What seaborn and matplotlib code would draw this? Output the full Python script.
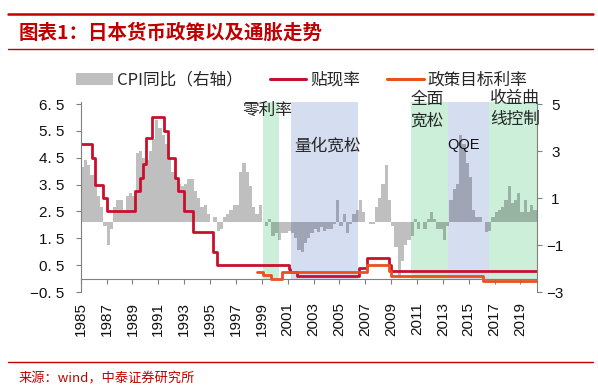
import numpy as np
import pandas as pd
import matplotlib
matplotlib.use('Agg')
import matplotlib.pyplot as plt
import seaborn as sns
from matplotlib.lines import Line2D
from matplotlib.patches import Patch
from matplotlib.font_manager import FontProperties

# ---- data ----
# Japan CPI yoy (%), quarterly, 1985Q1 .. 2020Q2, right axis
cpi_yoy = [
    2.3, 2.6, 2.4, 2.0,       # 1985
    1.5, 1.1, 0.6, -0.2,      # 1986
    -1.0, -0.3, 0.6, 0.9,     # 1987
    0.9, 0.5, 1.1, 1.2,       # 1988
    1.1, 2.9, 3.0, 2.7,       # 1989
    2.6, 3.0, 3.5, 4.3,       # 1990
    4.0, 3.7, 3.3, 2.7,       # 1991
    2.1, 1.9, 1.6, 1.5,       # 1992
    1.6, 1.8, 1.8, 1.3,       # 1993
    1.0, 0.6, 0.7, 0.3,       # 1994
    0.0, 0.2, -0.4, -0.3,     # 1995
    0.2, 0.3, 0.5, 0.7,       # 1996
    0.7, 2.1, 2.5, 2.1,       # 1997
    1.5, 0.6, 0.3, 0.7,       # 1998
    0.0, -0.2, 0.1, -0.6,     # 1999
    -0.5, -0.8, -0.5, -0.5,   # 2000
    -0.4, -0.5, -0.7, -1.2,   # 2001
    -1.3, -0.9, -0.7, -0.5,   # 2002
    -0.3, -0.45, -0.25, -0.4, # 2003
    -0.3, -0.3, -0.1, 0.9,    # 2004
    -0.2, 0.3, -0.5, -0.1,    # 2005
    0.3, 0.5, 0.9, 0.4,       # 2006
    0.0, -0.1, -0.1, 0.6,     # 2007
    1.0, 1.6, 2.4, 0.9,       # 2008
    -0.2, -1.1, -2.4, -1.7,   # 2009
    -1.0, -0.8, -0.6, 0.1,    # 2010
    -0.3, 0.0, -0.3, 0.1,     # 2011
    0.4, 0.1, -0.3, -0.3,     # 2012
    -0.8, -0.2, 0.9, 1.4,     # 2013
    1.6, 3.7, 3.3, 2.5,       # 2014
    1.9, 0.5, 0.2, 0.2,       # 2015
    0.0, -0.45, -0.4, 0.2,    # 2016
    0.4, 0.5, 0.6, 0.9,       # 2017
    1.5, 0.8, 0.9, 1.2,       # 2018
    0.4, 0.9, 0.4, 0.7,       # 2019
    0.5, 0.2,                 # 2020
]
cpi_quarters = pd.period_range('1985Q1', '2020Q2', freq='Q')

# discount rate (%), step changes, decimal year
discount_dates = [1985.0, 1985.87, 1986.08, 1986.72, 1987.05, 1989.22, 1989.62,
                  1989.82, 1990.05, 1990.51, 1991.44, 1991.75, 1992.27, 1992.52,
                  1992.99, 1993.68, 1995.2, 1995.55, 2001.1, 2001.17, 2001.72,
                  2006.53, 2007.14, 2008.83, 2008.97, 2020.3]
discount_rate = [5.0, 4.5, 3.5, 3.0, 2.5, 3.25, 3.75,
                 4.25, 5.25, 6.0, 5.5, 4.5, 3.75, 3.25,
                 2.5, 1.75, 1.0, 0.5, 0.35, 0.25, 0.1,
                 0.4, 0.75, 0.5, 0.3, 0.3]

# policy target rate (%)
policy_dates = [1998.66, 1999.12, 1999.71, 2000.56, 2007.14, 2008.83, 2008.97, 2016.12, 2020.3]
policy_rate = [0.25, 0.15, 0.0, 0.25, 0.5, 0.3, 0.1, -0.1, -0.1]

# policy regimes
regime_labels = ['零利率', '量化宽松', '全面\n宽松', 'QQE', '收益曲\n线控制']
regime_start = [1999.12, 2001.26, 2010.54, 2013.42, 2016.57]
regime_end = [2000.35, 2006.46, 2013.42, 2016.57, 2020.3]

left_ticks = [-0.5, 0.5, 1.5, 2.5, 3.5, 4.5, 5.5, 6.5]
right_ticks = [-3, -1, 1, 3, 5]
year_ticks = list(range(1985, 2020, 2))

# ---- style ----
RED = '#C00000'
CRIMSON = '#C8102E'
ORANGE = '#EA4F1C'
GREEN = '#CBEFD8'
BLUE = '#D5DDF1'
AXC = '#808080'
CJK = ['Noto Sans CJK SC', 'DejaVu Sans']

sns.set_style('ticks')
plt.rcParams['font.family'] = ['Liberation Sans', 'Noto Sans CJK SC', 'DejaVu Sans']

fig = plt.figure(figsize=(5.98, 3.86), dpi=100)
rect = [80.7 / 598, 1 - 292 / 386, (537.3 - 80.7) / 598, (292 - 101.7) / 386]
ax_cpi = fig.add_axes(rect)
ax = fig.add_axes(rect)
ax.patch.set_visible(False)

xlim = (1985.0, 2020.3)
ylim_left = (-0.5, 6.586)
ylim_right = (-3, 5.098)

# shaded regimes + CPI area on the lower (right-scale) axes
span_floor = (0 - ylim_left[0]) / (ylim_left[1] - ylim_left[0])
for i, (s, e) in enumerate(zip(regime_start, regime_end)):
    ax_cpi.axvspan(s, e, ymin=span_floor, ymax=1, color=GREEN if i % 2 == 0 else BLUE,
                   lw=0, zorder=0)

qx = np.array([p.year + (p.quarter - 1) / 4 for p in cpi_quarters])
edges = np.append(qx, qx[-1] + 0.25)
vals = np.append(cpi_yoy, cpi_yoy[-1])
ax_cpi.fill_between(edges, 0, vals, step='post', color='black', alpha=0.25, lw=0, zorder=1)

ax_cpi.set_xlim(*xlim)
ax_cpi.set_ylim(*ylim_right)
ax_cpi.yaxis.tick_right()
ax_cpi.set_yticks(right_ticks)
ax_cpi.set_yticklabels([str(v).replace('-', '\u2212') for v in right_ticks])
ax_cpi.tick_params(axis='y', length=3.6, width=0.8, color=AXC, labelsize=11, pad=9.4,
                   labelcolor='#111111')
for lbl in ax_cpi.get_yticklabels():
    lbl.set_horizontalalignment('center')
ax_cpi.tick_params(axis='x', bottom=False, labelbottom=False)
for side in ['left', 'top', 'bottom']:
    ax_cpi.spines[side].set_visible(False)
ax_cpi.spines['right'].set_color(AXC)
ax_cpi.spines['right'].set_linewidth(0.8)

# rate lines on the upper (left-scale) axes
rates = pd.concat([
    pd.DataFrame({'date': discount_dates, 'rate': discount_rate, 'kind': '贴现率'}),
    pd.DataFrame({'date': policy_dates, 'rate': policy_rate, 'kind': '政策目标利率'}),
])
sns.lineplot(data=rates, x='date', y='rate', hue='kind',
             palette={'贴现率': CRIMSON, '政策目标利率': ORANGE},
             drawstyle='steps-post', lw=2.0, legend=False, ax=ax, estimator=None)

ax.set_xlim(*xlim)
ax.set_ylim(*ylim_left)
ax.set_xlabel('')
ax.set_ylabel('')
ax.set_yticks(left_ticks)
ax.set_yticklabels([f'{v:.1f}'.replace('.', '. ').replace('-', '\u2212') for v in left_ticks])
ax.set_xticks(year_ticks)
ax.set_xticklabels([str(y) for y in year_ticks])
ax.tick_params(axis='y', length=3.6, width=0.8, color=AXC, labelsize=11, pad=7.9,
               labelcolor='#111111')
ax.tick_params(axis='x', length=3.6, width=0.8, color=AXC, labelsize=11, pad=13.5,
               labelcolor='#111111', labelrotation=90)
ax.spines['top'].set_visible(False)
ax.spines['right'].set_visible(False)
ax.spines['bottom'].set_position(('data', 0))
for side in ['left', 'bottom']:
    ax.spines[side].set_color(AXC)
    ax.spines[side].set_linewidth(0.8)

# regime labels
ann = dict(family=CJK, fontsize=12, color='#262626')
ax.text(1999.44, 6.26, regime_labels[0], ha='center', va='center', **ann)
ax.text(2004.06, 4.92, regime_labels[1], ha='center', va='center', **ann)
ax.text(2010.51, 6.26, regime_labels[2], ha='left', va='center', linespacing=1.35, **ann)
ax.text(2014.59, 4.96, regime_labels[3], ha='center', va='center', fontsize=10.5,
        color='#111111', family='Liberation Sans')
ax.text(2016.64, 6.32, regime_labels[4], ha='left', va='center', linespacing=1.35, **ann)

# legend
handles = [Patch(facecolor='#BFBFBF', edgecolor='none'),
           Line2D([], [], color=CRIMSON, lw=2.2),
           Line2D([], [], color=ORANGE, lw=2.2)]
fig.legend(handles, ['CPI同比（右轴）', '贴现率', '政策目标利率'], loc='center',
           bbox_to_anchor=(302 / 598, 1 - 80 / 386), ncol=3, frameon=False,
           prop=FontProperties(family=CJK, size=12), handlelength=2.2,
           handletextpad=0.25, columnspacing=1.6, borderaxespad=0)

# header / footer
fig.add_artist(Line2D([8 / 598, 593 / 598], [1 - 14 / 386] * 2, color=RED, lw=1.8))
fig.add_artist(Line2D([8 / 598, 593 / 598], [1 - 48.7 / 386] * 2, color=RED, lw=1.0))
fig.add_artist(Line2D([8 / 598, 593 / 598], [1 - 362.4 / 386] * 2, color=RED, lw=1.0))
fig.text(19 / 598, 1 - 33 / 386, '图表1：日本货币政策以及通胀走势', color=RED,
         fontsize=14, fontweight='bold', va='center', family=CJK)
fig.text(19 / 598, 1 - 379 / 386, '来源：wind，中泰证券研究所', color=RED,
         fontsize=9.5, va='center', family=CJK)

fig.savefig('out.png', dpi=100)
